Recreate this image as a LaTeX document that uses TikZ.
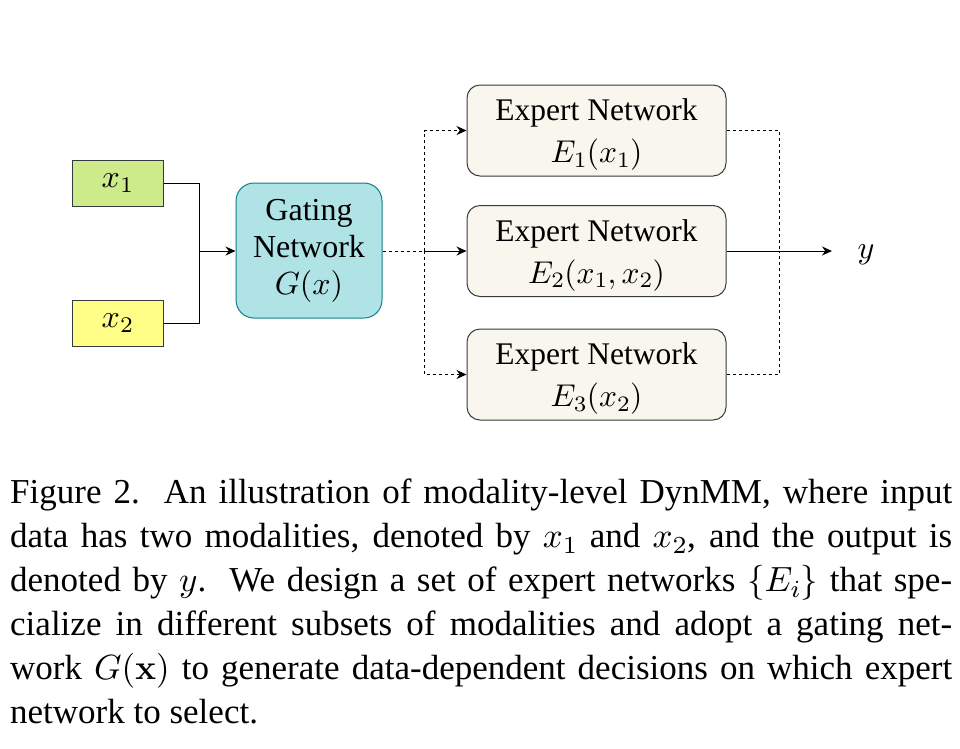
\RequirePackage{fix-cm}
\documentclass[tikz,border=0pt]{standalone}
\usepackage[no-math]{fontspec}
\setmainfont{Liberation Serif}
\DeclareFontShape{OML}{cmm}{m}{it}{<-25>cmmi7 <25->cmmi10}{}
\DeclareFontShape{OT1}{cmr}{m}{n}{<-25>cmr7 <25->cmr10}{}
\usetikzlibrary{arrows.meta,positioning}
\definecolor{greenF}{HTML}{CDEB8B}
\definecolor{yellowF}{HTML}{FFFF88}
\definecolor{tealF}{HTML}{B0E3E6}
\definecolor{tealD}{HTML}{0E8088}
\definecolor{creamF}{HTML}{F9F7ED}
\definecolor{grayD}{HTML}{36393D}
\tikzset{
  inbox/.style={draw=grayD, line width=1pt, minimum width=91pt, minimum height=46pt, inner sep=0pt, font=\fontsize{32}{38}\selectfont},
  gatebox/.style={draw=tealD, fill=tealF, line width=1pt, rounded corners=18pt, minimum width=146pt, minimum height=135pt, inner sep=0pt, align=center, font=\fontsize{32}{37}\selectfont},
  expbox/.style={draw=grayD, fill=creamF, line width=1pt, rounded corners=13pt, minimum width=259pt, minimum height=91pt, inner sep=0pt},
  exptext/.style={align=center, font=\fontsize{31.5}{42}\selectfont, yshift=-4pt},
  conn/.style={line width=1pt, black},
  dconn/.style={line width=1pt, black, dash pattern=on 3pt off 3pt},
  tip/.style={-{Stealth[length=10pt,width=9pt]}},
}
\begin{document}
\begin{tikzpicture}[x=1pt,y=-1pt]
\useasboundingbox (0,0) rectangle (960,748);
\node[inbox, fill=greenF] (x1) at (117.5,183) {$x_1$};
\node[inbox, fill=yellowF] (x2) at (117.5,323) {$x_2$};
\node[gatebox] (g) at (309,250.5) {Gating\\Network\\$G(x)$};
\node[expbox, label={[exptext]center:{Expert Network\\$E_1(x_1)$}}] (e1) at (596.5,130.5) {};
\node[expbox, label={[exptext]center:{Expert Network\\$E_2(x_1,x_2)$}}] (e2) at (596.5,251) {};
\node[expbox, label={[exptext]center:{Expert Network\\$E_3(x_2)$}}] (e3) at (596.5,374.5) {};
\node[font=\fontsize{32}{38}\selectfont] (y) at (866,255) {$y$};
% input merging
\coordinate (m) at (199,251);
\draw[conn] (x1.east) -| (m);
\draw[conn] (x2.east) -| (m);
\draw[conn,tip] (m) -- (g.west |- m);
% gating to experts
\coordinate (sl) at (424,251);
\coordinate (sr) at (779,251);
\draw[dconn] (g.east |- sl) -- (sl);
\draw[conn,tip] (sl) -- (e2.west |- sl);
\draw[dconn,tip] (sl) |- (e1.west);
\draw[dconn,tip] (sl) |- (e3.west);
% experts to output
\draw[dconn] (e1.east) -| (sr);
\draw[dconn] (e3.east) -| (sr);
\draw[conn,tip] (e2.east |- sr) -- (832,251) coordinate (yend);
% caption
\node[anchor=north west, inner sep=0pt, text width=942pt, align=justify,
      font=\fontsize{35}{44}\selectfont] (cap) at (10,479)
{\tolerance=10000 Figure 2.\ \ An illustration of modality-level DynMM, where input\linebreak
data has two modalities, denoted by $x_1$ and $x_2$, and the output is\linebreak
denoted by $y$.\ \ We design a set of expert networks $\{E_i\}$ that spe-\linebreak
cialize in different subsets of modalities and adopt a gating net-\linebreak
work $G(\mathbf{x})$ to generate data-dependent decisions on which expert\linebreak
network to select.};
\end{tikzpicture}
\end{document}
